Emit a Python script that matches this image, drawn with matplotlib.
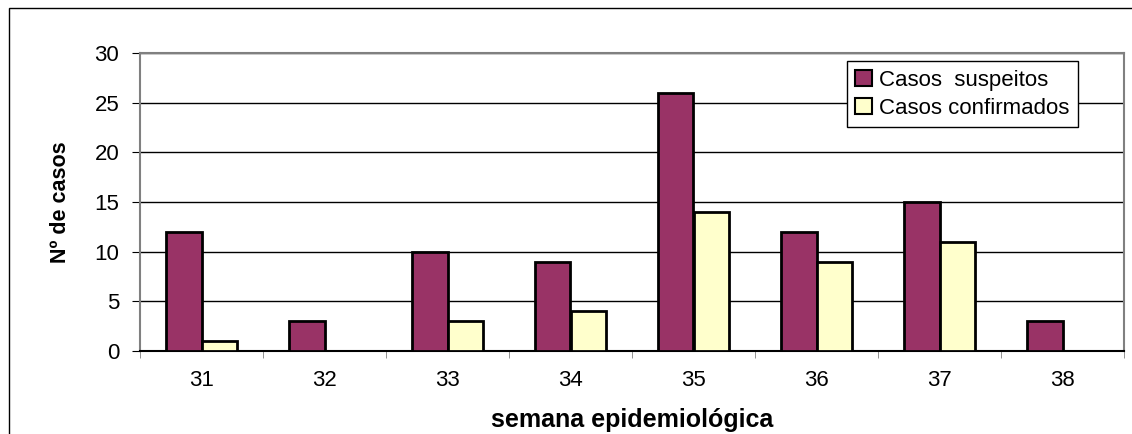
import numpy as np
import matplotlib.pyplot as plt
from matplotlib.patches import Rectangle

plt.rcParams['font.family'] = ['Liberation Sans', 'DejaVu Sans']

# data
semanas = ['31', '32', '33', '34', '35', '36', '37', '38']
suspeitos = [12, 3, 10, 9, 26, 12, 15, 3]
confirmados = [1, 0, 3, 4, 14, 9, 11, 0]

W, H = 1132, 434
fig = plt.figure(figsize=(W / 100, H / 100), dpi=100)
ax = fig.add_axes([140 / W, 1 - 351 / H, (1124 - 140) / W, (351 - 53) / H])

# outer chart frame (cut by the image edges)
fig.patches.append(Rectangle((9 / W, -0.1), 1.2, 1 - 8 / H + 0.1,
                             transform=fig.transFigure, fill=False,
                             edgecolor='#000000', linewidth=1))

x = np.arange(len(semanas))
bw = 0.29
ax.bar(x - bw / 2, suspeitos, bw, color='#993366', edgecolor='black',
       linewidth=2, label='Casos  suspeitos', zorder=3)
conf_bars = [(xi, v) for xi, v in zip(x, confirmados) if v > 0]
ax.bar([c[0] + bw / 2 for c in conf_bars], [c[1] for c in conf_bars], bw,
       color='#FFFFCC', edgecolor='black', linewidth=2,
       label='Casos confirmados', zorder=3)

ax.set_xlim(-0.5, len(semanas) - 0.5)
ax.set_ylim(0, 30)
ax.set_yticks(range(0, 31, 5))
ax.yaxis.grid(True, color='black', linewidth=1)
ax.set_axisbelow(True)

ax.set_xticks(x)
ax.set_xticklabels(semanas)
ax.set_xticks(np.arange(-0.5, len(semanas)), minor=True)
ax.tick_params(axis='x', which='major', length=0, pad=14, labelsize=16)
ax.tick_params(axis='x', which='minor', length=5, direction='out',
               color='#808080')
ax.tick_params(axis='y', length=6, direction='out', pad=9, labelsize=16,
               color='black')

for s in ['top', 'right', 'left']:
    ax.spines[s].set_color('#808080')
    ax.spines[s].set_linewidth(1.5)
ax.spines['bottom'].set_color('black')
ax.spines['bottom'].set_linewidth(1.5)

ax.set_ylabel('Nº de casos', fontsize=15.5, fontweight='bold', labelpad=17)
ax.set_xlabel('semana epidemiológica', fontsize=18, fontweight='bold',
              labelpad=12)

leg = ax.legend(loc='upper right', bbox_to_anchor=((1078 - 140) / (1124 - 140), 1 - (61 - 53) / (351 - 53)),
                fontsize=16, frameon=True, fancybox=False, framealpha=1,
                edgecolor='black', handlelength=0.75, handleheight=0.7,
                handletextpad=0.3, borderpad=0.4, labelspacing=0.3,
                borderaxespad=0)
leg.get_frame().set_linewidth(1)
for h in leg.legend_handles:
    h.set_linewidth(1.5)

fig.savefig('out.png', dpi=100)
